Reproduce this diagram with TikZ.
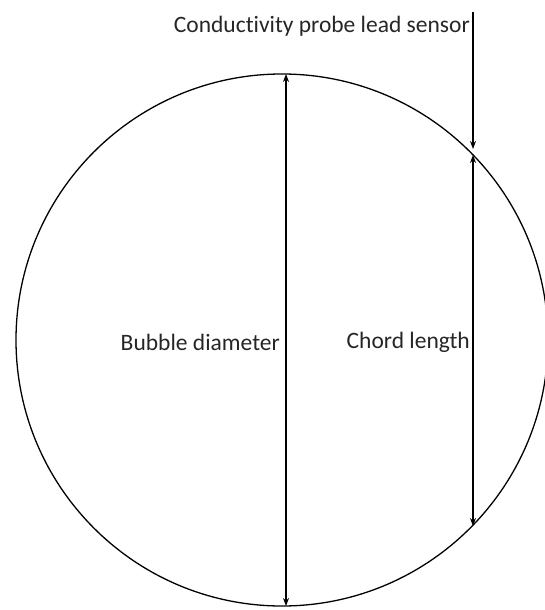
\documentclass[tikz,border=0pt]{standalone}
\usepackage{fontspec}
\setmainfont{Carlito}[Ligatures=CommonOff]
\usetikzlibrary{arrows.meta}
\begin{document}
\begin{tikzpicture}[x=1pt,y=-1pt,
  outline/.style={draw=black,line width=1.3pt},
  dimline/.style={draw=black,line width=1.4pt,{Stealth[length=8pt,width=6pt]}-{Stealth[length=8pt,width=6pt]}},
  leadline/.style={draw=black,line width=1.4pt,-{Stealth[length=8pt,width=6pt]}},
  lbl/.style={font=\fontsize{23.5}{27}\selectfont,text=black!85,inner sep=0pt,anchor=east}]
\useasboundingbox (0,0) rectangle (545,610);
\begin{scope}
\clip (0,0) rectangle (545,610);
\node[circle,outline,minimum size=532pt,inner sep=0pt] (bubble) at (282,340) {};
\end{scope}
\coordinate (dtop) at (286,74);
\coordinate (dbot) at (286,606);
\coordinate (ctop) at (473,155);
\coordinate (cbot) at (473,526);
\coordinate (leadstart) at (473,12);
\coordinate (leadend) at (473,149);
\draw[dimline] (dbot) -- (dtop);
\draw[dimline] (cbot) -- (ctop);
\draw[leadline] (leadstart) -- (leadend);
\node[lbl] (dlabel) at (280,342) {Bubble diameter};
\node[lbl] (clabel) at (470,342) {Chord length};
\node[lbl] (plabel) at (470,26) {Conductivity probe lead sensor};
\end{tikzpicture}
\end{document}
